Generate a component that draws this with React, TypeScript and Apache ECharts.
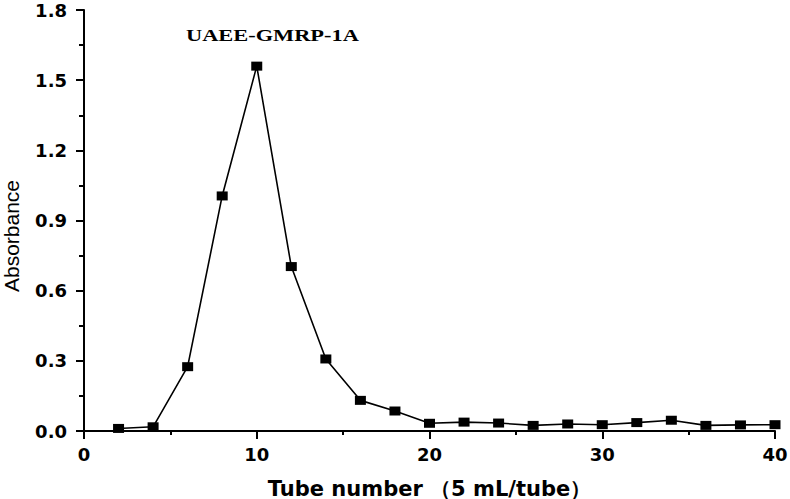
import React, { useEffect, useRef } from "react";
import * as echarts from "echarts";

const tubes = [2, 4, 6, 8, 10, 12, 14, 16, 18, 20, 22, 24, 26, 28, 30, 32, 34, 36, 38, 40];
const absorbance = [
  0.011, 0.018, 0.275, 1.005, 1.56, 0.703, 0.308, 0.131, 0.0855, 0.033,
  0.038, 0.034, 0.024, 0.03, 0.027, 0.036, 0.046, 0.024, 0.026, 0.027,
];
const xTitle = "Tube number （5 mL/tube）";
const yTitle = "Absorbance";
const annotation = "UAEE-GMRP-1A";

export default function App() {
  const ref = useRef<HTMLDivElement>(null);
  useEffect(() => {
    if (!ref.current) return;
    const chart = echarts.init(ref.current, null, { renderer: "svg" });
    const tickFont = {
      fontFamily: "DejaVu Sans",
      fontWeight: "bold" as const,
      fontSize: 18,
      color: "#000",
    };
    chart.setOption({
      animation: false,
      backgroundColor: "#fff",
      grid: {
        left: 84,
        right: 15,
        top: 10,
        bottom: 68,
        containLabel: false,
        outerBoundsMode: "none",
      },
      xAxis: {
        type: "value",
        min: 0,
        max: 40,
        interval: 10,
        name: xTitle,
        nameLocation: "middle",
        nameGap: 47,
        nameTextStyle: {
          fontFamily: "DejaVu Sans",
          fontWeight: "bold",
          fontSize: 21,
          color: "#000",
        },
        axisLine: { show: true, lineStyle: { color: "#000", width: 2 } },
        axisTick: { show: true, inside: false, length: 8, lineStyle: { color: "#000", width: 2 } },
        minorTick: { show: true, splitNumber: 2, length: 4, lineStyle: { color: "#000", width: 2 } },
        axisLabel: { ...tickFont, margin: 14 },
        splitLine: { show: false },
      },
      yAxis: {
        type: "value",
        min: 0,
        max: 1.8,
        interval: 0.3,
        name: yTitle,
        nameLocation: "middle",
        nameGap: 62,
        nameRotate: 90,
        nameTextStyle: {
          fontFamily: "Liberation Sans",
          fontWeight: "normal",
          fontSize: 21,
          color: "#000",
          padding: [0, 31, 0, 0],
        },
        axisLine: { show: true, lineStyle: { color: "#000", width: 2 } },
        axisTick: { show: true, inside: false, length: 8, lineStyle: { color: "#000", width: 2 } },
        minorTick: { show: true, splitNumber: 2, length: 5, lineStyle: { color: "#000", width: 2 } },
        axisLabel: {
          ...tickFont,
          margin: 17,
          formatter: (v: number) => v.toFixed(1),
        },
        splitLine: { show: false },
      },
      graphic: [
        {
          type: "text",
          left: 186,
          top: 28,
          scaleX: 1.4,
          style: {
            text: annotation,
            fontFamily: "Liberation Serif",
            fontWeight: "bold",
            fontSize: 16,
            fill: "#000",
          },
        },
      ],
      series: [
        {
          type: "line",
          data: tubes.map((t, i) => [t, absorbance[i]]),
          symbol: "rect",
          symbolSize: [11, 9],
          showAllSymbol: true,
          lineStyle: { color: "#000", width: 1.6 },
          itemStyle: { color: "#000" },
        },
      ],
    });
    return () => chart.dispose();
  }, []);
  return (
    <div
      ref={ref}
      style={{ position: "fixed", left: 0, top: 0, width: 790, height: 499 }}
    />
  );
}
